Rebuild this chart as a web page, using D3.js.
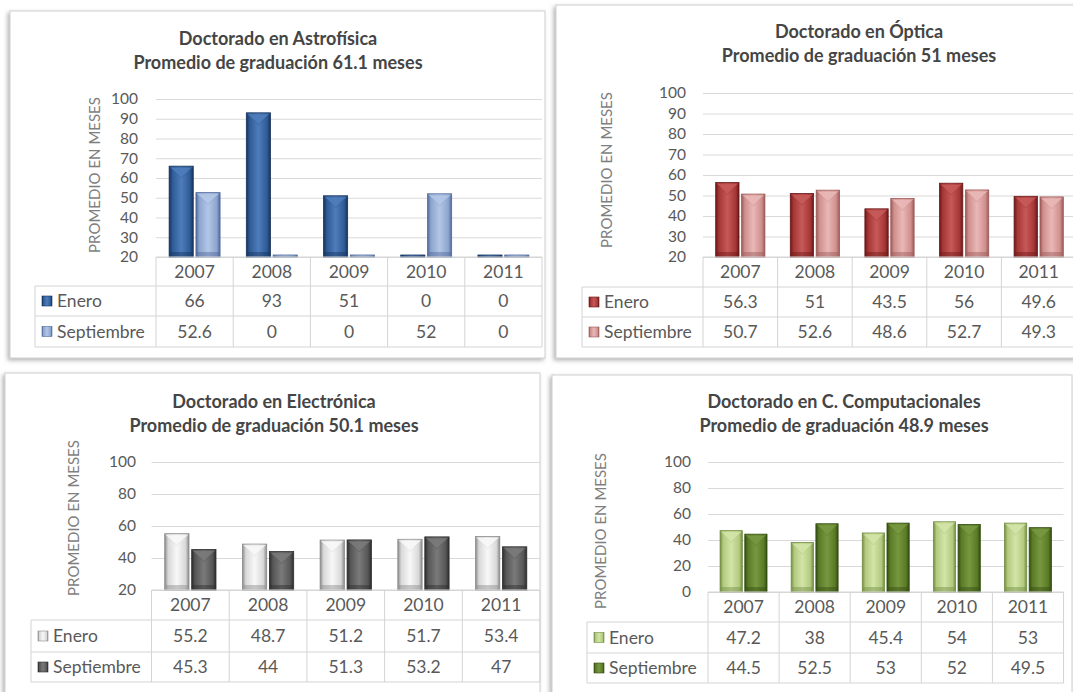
<!DOCTYPE html>
<html>
<head>
<meta charset="utf-8">
<script src="https://cdn.jsdelivr.net/npm/d3@7"></script>
<style>
  body { margin: 0; background: #fff; }
  text { font-family: Lato, "Open Sans", sans-serif; }
</style>
</head>
<body>
<div id="canvas"></div>
<script>
// categories and series
var years = ['2007', '2008', '2009', '2010', '2011'];
var seriesNames = ['Enero', 'Septiembre'];

var astroEnero = [66, 93, 51, 0, 0];
var astroSept = [52.6, 0, 0, 52, 0];
var opticaEnero = [56.3, 51, 43.5, 56, 49.6];
var opticaSept = [50.7, 52.6, 48.6, 52.7, 49.3];
var electroEnero = [55.2, 48.7, 51.2, 51.7, 53.4];
var electroSept = [45.3, 44, 51.3, 53.2, 47];
var compEnero = [47.2, 38, 45.4, 54, 53];
var compSept = [44.5, 52.5, 53, 52, 49.5];

// tick labels
var astroTicks = [20, 30, 40, 50, 60, 70, 80, 90, 100];
var opticaTicks = [20, 30, 40, 50, 60, 70, 80, 90, 100];
var electroTicks = [20, 40, 60, 80, 100];
var compTicks = [0, 20, 40, 60, 80, 100];

var titles = [
    ['Doctorado en Astrofísica', 'Promedio de graduación 61.1 meses'],
    ['Doctorado en Óptica', 'Promedio de graduación 51 meses'],
    ['Doctorado en Electrónica', 'Promedio de graduación 50.1 meses'],
    ['Doctorado en C. Computacionales', 'Promedio de graduación 48.9 meses']
];

var canvas = d3.select('#canvas').append('svg')
    .attr('width', 1073)
    .attr('height', 692);

var defs = canvas.append('defs');

var shadow = defs.append('filter')
    .attr('id', 'shadow')
    .attr('x', '-5%').attr('y', '-5%')
    .attr('width', '110%').attr('height', '110%');
shadow.append('feDropShadow')
    .attr('dx', -2).attr('dy', 2)
    .attr('stdDeviation', 2)
    .attr('flood-color', '#777')
    .attr('flood-opacity', 0.55);

// bar colours: edge / mid / light for each series
var palettes = {
    astro: [{edge: '#17325a', mid: '#2e5b96', light: '#4f7dbb'},
            {edge: '#51699a', mid: '#8ca5cf', light: '#b3c6e6'}],
    optica: [{edge: '#6a1818', mid: '#a53636', light: '#c65a58'},
             {edge: '#9a5a58', mid: '#cf8f8d', light: '#e9b8b6'}],
    electro: [{edge: '#8a8a8a', mid: '#d8d8d8', light: '#f8f8f8'},
              {edge: '#2c2c2c', mid: '#565656', light: '#7a7a7a'}],
    comp: [{edge: '#718c42', mid: '#b2ca7e', light: '#d3e4a8'},
           {edge: '#334c12', mid: '#5a7a26', light: '#779840'}]
};

Object.keys(palettes).forEach(function(key) {
    palettes[key].forEach(function(p, i) {
        var g = defs.append('linearGradient')
            .attr('id', 'grad-' + key + '-' + i)
            .attr('x1', '0%').attr('x2', '100%')
            .attr('y1', '0%').attr('y2', '0%');
        g.append('stop').attr('offset', '0%').attr('stop-color', p.edge);
        g.append('stop').attr('offset', '14%').attr('stop-color', p.mid);
        g.append('stop').attr('offset', '50%').attr('stop-color', p.light);
        g.append('stop').attr('offset', '86%').attr('stop-color', p.mid);
        g.append('stop').attr('offset', '100%').attr('stop-color', p.edge);
    });
});

var panels = [
    {key: 'astro', enero: astroEnero, sept: astroSept, ticks: astroTicks, title: titles[0],
     box: [10, 11, 535, 347], titleX: 278, titleY: 45,
     left: 156, right: 542, top: 99, rows: [257, 286, 316, 347],
     legendLeft: 35, tickRight: 138, labelX: 95, labelY: 175},
    {key: 'optica', enero: opticaEnero, sept: opticaSept, ticks: opticaTicks, title: titles[1],
     box: [556, 5, 530, 353], titleX: 859, titleY: 38,
     left: 703, right: 1076, top: 93, rows: [257, 287, 317, 347],
     legendLeft: 582, tickRight: 686, labelX: 607, labelY: 170},
    {key: 'electro', enero: electroEnero, sept: electroSept, ticks: electroTicks, title: titles[2],
     box: [5, 373, 535, 340], titleX: 274, titleY: 408,
     left: 151.5, right: 540, top: 462, rows: [590, 620, 652, 682],
     legendLeft: 31, tickRight: 136, labelX: 74, labelY: 518},
    {key: 'comp', enero: compEnero, sept: compSept, ticks: compTicks, title: titles[3],
     box: [552, 375, 520, 340], titleX: 844, titleY: 408,
     left: 708, right: 1063.5, top: 462, rows: [592, 622, 653, 683],
     legendLeft: 587, tickRight: 691, labelX: 601, labelY: 531}
];

panels.forEach(drawPanel);

function drawPanel(p) {
    var g = canvas.append('g');
    var bottom = p.rows[0];

    g.append('rect')
        .attr('x', p.box[0]).attr('y', p.box[1])
        .attr('width', p.box[2]).attr('height', p.box[3])
        .attr('fill', '#fff')
        .attr('stroke', '#cfcfcf')
        .attr('filter', 'url(#shadow)');

    // title
    var t = g.append('text')
        .attr('text-anchor', 'middle')
        .attr('font-size', 18)
        .attr('font-weight', 'bold')
        .attr('fill', '#454545');
    t.append('tspan').attr('x', p.titleX).attr('y', p.titleY).text(p.title[0]);
    t.append('tspan').attr('x', p.titleX).attr('dy', 24).text(p.title[1]);

    var y = d3.scaleLinear()
        .domain([p.ticks[0], p.ticks[p.ticks.length - 1]])
        .range([bottom, p.top]);

    var x0 = d3.scaleBand().domain(years).range([p.left, p.right]);
    var bw = x0.bandwidth();
    var x1 = d3.scaleBand().domain(seriesNames)
        .range([bw * 0.17, bw * 0.83])
        .paddingInner(0.1);

    // gridlines + tick labels
    var axis = g.append('g')
        .attr('transform', 'translate(' + p.left + ',0)')
        .call(d3.axisLeft(y)
            .tickValues(p.ticks)
            .tickSize(-(p.right - p.left))
            .tickPadding(p.left - p.tickRight));
    axis.select('.domain').remove();
    axis.selectAll('line').attr('stroke', '#d9d9d9');
    axis.selectAll('text')
        .attr('font-size', 15.5)
        .attr('fill', '#595959')
        .style('font-family', 'Lato, sans-serif');

    // axis title
    g.append('text')
        .attr('transform', 'translate(' + p.labelX + ',' + p.labelY + ') rotate(-90)')
        .attr('text-anchor', 'middle')
        .attr('dy', '0.35em')
        .attr('font-size', 15)
        .attr('fill', '#7f7f7f')
        .text('PROMEDIO EN MESES');

    // bars
    var minV = p.ticks[0];
    var barData = [];
    years.forEach(function(yr, i) {
        [p.enero[i], p.sept[i]].forEach(function(v, s) {
            barData.push({year: yr, s: s, v: v});
        });
    });

    var bars = g.selectAll('.bar')
        .data(barData)
        .enter()
        .append('g')
        .attr('class', 'bar');

    function top(d) {
        return d.v > minV ? y(d.v) : bottom - 2;
    }
    function bx(d) {
        return x0(d.year) + x1(seriesNames[d.s]);
    }

    bars.append('rect')
        .attr('x', bx)
        .attr('y', top)
        .attr('width', x1.bandwidth())
        .attr('height', function(d) { return bottom - top(d); })
        .attr('fill', function(d) { return 'url(#grad-' + p.key + '-' + d.s + ')'; })
        .attr('stroke', function(d) { return palettes[p.key][d.s].edge; })
        .attr('stroke-width', 0.8);

    // bevel on top of the bars
    bars.filter(function(d) { return d.v > minV; })
        .append('path')
        .attr('d', function(d) {
            var xa = bx(d), xb = xa + x1.bandwidth(), yt = top(d);
            var xc = (xa + xb) / 2;
            return 'M' + (xa + 1) + ',' + (yt + 1) + 'L' + (xb - 1) + ',' + (yt + 1) +
                'L' + (xb - 4) + ',' + (yt + 4) + 'L' + xc + ',' + (yt + 12) +
                'L' + (xa + 4) + ',' + (yt + 4) + 'Z';
        })
        .attr('fill', function(d) { return palettes[p.key][d.s].light; })
        .attr('stroke', function(d) { return palettes[p.key][d.s].mid; })
        .attr('stroke-width', 0.6)
        .attr('opacity', 0.9);

    bars.filter(function(d) { return d.v > minV; })
        .append('rect')
        .attr('x', function(d) { return bx(d) + 1; })
        .attr('y', bottom - 5)
        .attr('width', x1.bandwidth() - 2)
        .attr('height', 4)
        .attr('fill', function(d) { return palettes[p.key][d.s].edge; })
        .attr('opacity', 0.45);

    // data table
    var r = p.rows;
    var lineColor = '#d4d4d4';
    var tbl = g.append('g').attr('stroke', lineColor).attr('stroke-width', 1);
    tbl.append('line').attr('x1', p.left).attr('x2', p.right).attr('y1', r[0]).attr('y2', r[0]);
    [r[1], r[2], r[3]].forEach(function(yy) {
        tbl.append('line').attr('x1', p.legendLeft).attr('x2', p.right).attr('y1', yy).attr('y2', yy);
    });
    years.forEach(function(yr) {
        tbl.append('line').attr('x1', x0(yr)).attr('x2', x0(yr)).attr('y1', r[0]).attr('y2', r[3]);
    });
    tbl.append('line').attr('x1', p.right).attr('x2', p.right).attr('y1', r[0]).attr('y2', r[3]);
    tbl.append('line').attr('x1', p.legendLeft).attr('x2', p.legendLeft).attr('y1', r[1]).attr('y2', r[3]);

    var txt = g.append('g')
        .attr('font-size', 17.5)
        .attr('fill', '#595959');

    years.forEach(function(yr, i) {
        var cx = x0(yr) + bw / 2;
        txt.append('text').attr('x', cx).attr('y', (r[0] + r[1]) / 2)
            .attr('dy', '0.36em').attr('text-anchor', 'middle').text(yr);
        txt.append('text').attr('x', cx).attr('y', (r[1] + r[2]) / 2)
            .attr('dy', '0.36em').attr('text-anchor', 'middle').text(p.enero[i]);
        txt.append('text').attr('x', cx).attr('y', (r[2] + r[3]) / 2)
            .attr('dy', '0.36em').attr('text-anchor', 'middle').text(p.sept[i]);
    });

    seriesNames.forEach(function(name, s) {
        var cy = (r[s + 1] + r[s + 2]) / 2;
        g.append('rect')
            .attr('x', p.legendLeft + 7).attr('y', cy - 5)
            .attr('width', 10).attr('height', 10)
            .attr('fill', 'url(#grad-' + p.key + '-' + s + ')')
            .attr('stroke', palettes[p.key][s].edge)
            .attr('stroke-width', 0.6);
        txt.append('text').attr('x', p.legendLeft + 22).attr('y', cy)
            .attr('dy', '0.36em').text(name);
    });
}
</script>
</body>
</html>
